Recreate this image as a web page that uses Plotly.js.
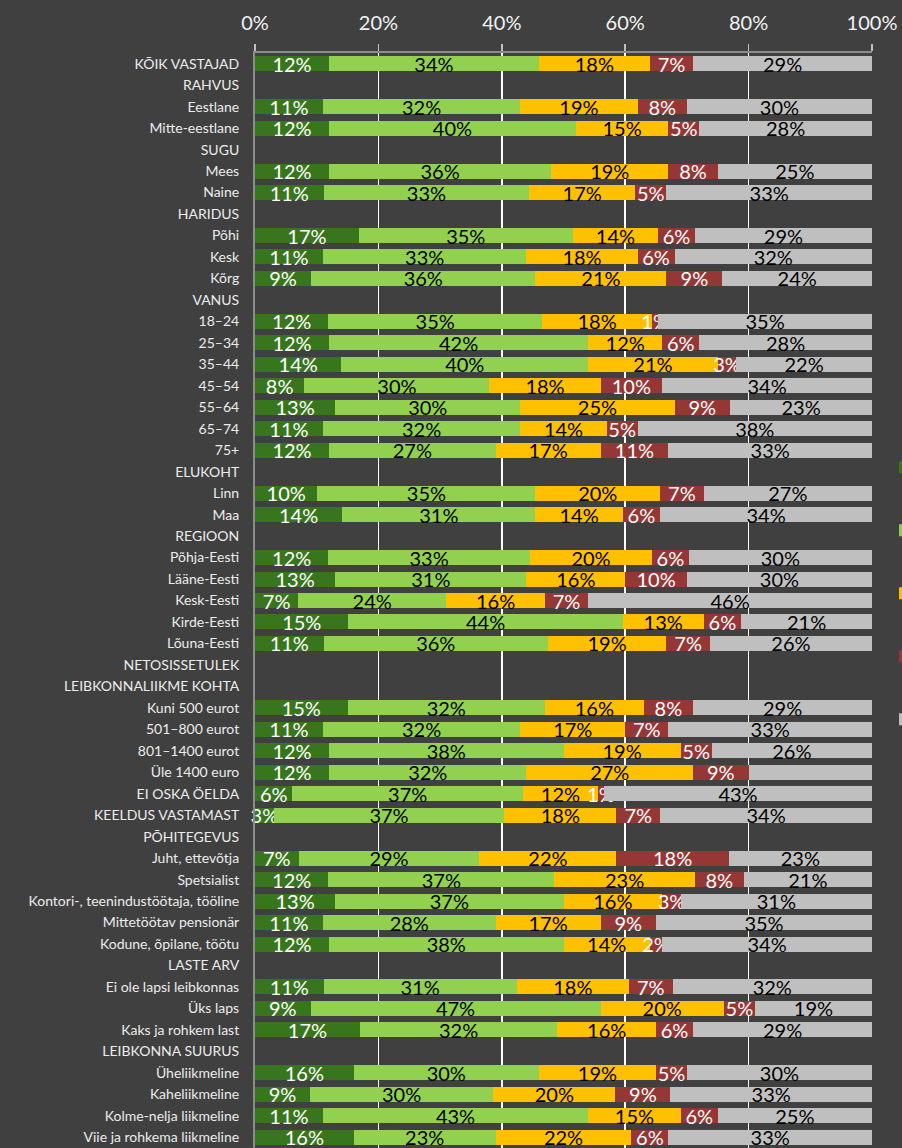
<!DOCTYPE html>
<html>
<head>
<meta charset="utf-8">
<script src="https://cdn.plot.ly/plotly-3.0.1.min.js"></script>
<style>html,body{margin:0;padding:0;background:#404040;}</style>
</head>
<body>
<div id="chart" style="width:902px;height:1148px;"></div>
<script>
const categories = [
  'KÕIK VASTAJAD','RAHVUS','Eestlane','Mitte-eestlane','SUGU','Mees','Naine',
  'HARIDUS','Põhi','Kesk','Kõrg','VANUS','18–24','25–34','35–44','45–54','55–64','65–74','75+',
  'ELUKOHT','Linn','Maa','REGIOON','Põhja-Eesti','Lääne-Eesti','Kesk-Eesti','Kirde-Eesti','Lõuna-Eesti',
  'NETOSISSETULEK','LEIBKONNALIIKME KOHTA','Kuni 500 eurot','501–800 eurot','801–1400 eurot','Üle 1400 euro',
  'EI OSKA ÖELDA','KEELDUS VASTAMAST','PÕHITEGEVUS','Juht, ettevõtja','Spetsialist',
  'Kontori-, teenindustöötaja, tööline','Mittetöötav pensionär','Kodune, õpilane, töötu',
  'LASTE ARV','Ei ole lapsi leibkonnas','Üks laps','Kaks ja rohkem last',
  'LEIBKONNA SUURUS','Üheliikmeline','Kaheliikmeline','Kolme-nelja liikmeline','Viie ja rohkema liikmeline'
];
// legend names are outside the visible frame in the reference
const seriesNames = ['', '', '', '', ''];
const darkGreen = [12,null,11,12,null,12,11,null,17,11,9,null,12,12,14,8,13,11,12,null,10,14,null,12,13,7,15,11,null,null,15,11,12,12,6,3,null,7,12,13,11,12,null,11,9,17,null,16,9,11,16];
const lightGreen = [34,null,32,40,null,36,33,null,35,33,36,null,35,42,40,30,30,32,27,null,35,31,null,33,31,24,44,36,null,null,32,32,38,32,37,37,null,29,37,37,28,38,null,31,47,32,null,30,30,43,23];
const yellow = [18,null,19,15,null,19,17,null,14,18,21,null,18,12,21,18,25,14,17,null,20,14,null,20,16,16,13,19,null,null,16,17,19,27,12,18,null,22,23,16,17,14,null,18,20,16,null,19,20,15,22];
const red = [7,null,8,5,null,8,5,null,6,6,9,null,1,6,3,10,9,5,11,null,7,6,null,6,10,7,6,7,null,null,8,7,5,9,1,7,null,18,8,3,9,2,null,7,5,6,null,5,9,6,6];
const gray = [29,null,30,28,null,25,33,null,29,32,24,null,35,28,22,34,23,38,33,null,27,34,null,30,30,46,21,26,null,null,29,33,26,20,43,34,null,23,21,31,35,34,null,32,19,29,null,30,33,25,33];
const grayLabelHidden = ['Üle 1400 euro'];

const seriesValues = [darkGreen, lightGreen, yellow, red, gray];
const colors = ['#38761d','#92d050','#ffc000','#953735','#bfbfbf'];
const textColors = ['#ffffff','#000000','#000000','#ffffff','#000000'];
const FONT = 'Lato, "Open Sans", sans-serif';

const traces = seriesValues.map((vals, i) => ({
  type: 'bar',
  orientation: 'h',
  name: seriesNames[i],
  legendgroup: 'g' + i,
  y: categories,
  x: vals,
  text: vals.map((v, j) => (v == null || (i === 4 && grayLabelHidden.includes(categories[j]))) ? '' : v + '%'),
  textposition: 'inside',
  insidetextanchor: 'middle',
  textangle: 0,
  constraintext: 'none',
  cliponaxis: false,
  insidetextfont: {family: FONT, size: 20, color: textColors[i]},
  textfont: {family: FONT, size: 20, color: textColors[i]},
  marker: {color: colors[i], line: {width: 0}},
  hoverinfo: 'skip'
}));

const layout = {
  width: 902, height: 1148,
  paper_bgcolor: '#404040', plot_bgcolor: '#404040',
  margin: {l: 255, r: 30, t: 53, b: 0, autoexpand: false},
  barmode: 'stack',
  barnorm: 'percent',
  bargap: 0.3,
  showlegend: true,
  legend: {
    x: 1.0211, xanchor: 'left', y: 0.635, yanchor: 'top',
    traceorder: 'grouped', tracegroupgap: 44,
    bgcolor: 'rgba(0,0,0,0)',
    font: {family: FONT, size: 12, color: '#d9d9d9'}
  },
  xaxis: {
    side: 'top', range: [0, 100.0005], tickmode: 'linear', tick0: 0, dtick: 20,
    ticksuffix: '%', showgrid: true, gridcolor: '#ffffff', gridwidth: 1.5,
    zeroline: false, showline: true, linecolor: '#8c8c8c', linewidth: 2,
    ticks: 'outside', ticklen: 7, tickcolor: '#bfbfbf', tickwidth: 1.5,
    ticklabelstandoff: 6,
    tickfont: {family: FONT, size: 20, color: '#f2f2f2'},
    fixedrange: true
  },
  yaxis: {
    type: 'category', autorange: 'reversed',
    categoryorder: 'array', categoryarray: categories,
    showgrid: false, zeroline: false,
    showline: true, linecolor: '#8c8c8c', linewidth: 2,
    ticks: '', ticklabelstandoff: 11,
    tickfont: {family: FONT, size: 14, color: '#ececec'},
    fixedrange: true
  }
};

Plotly.newPlot('chart', traces, layout, {displayModeBar: false, staticPlot: true});
</script>
</body>
</html>
